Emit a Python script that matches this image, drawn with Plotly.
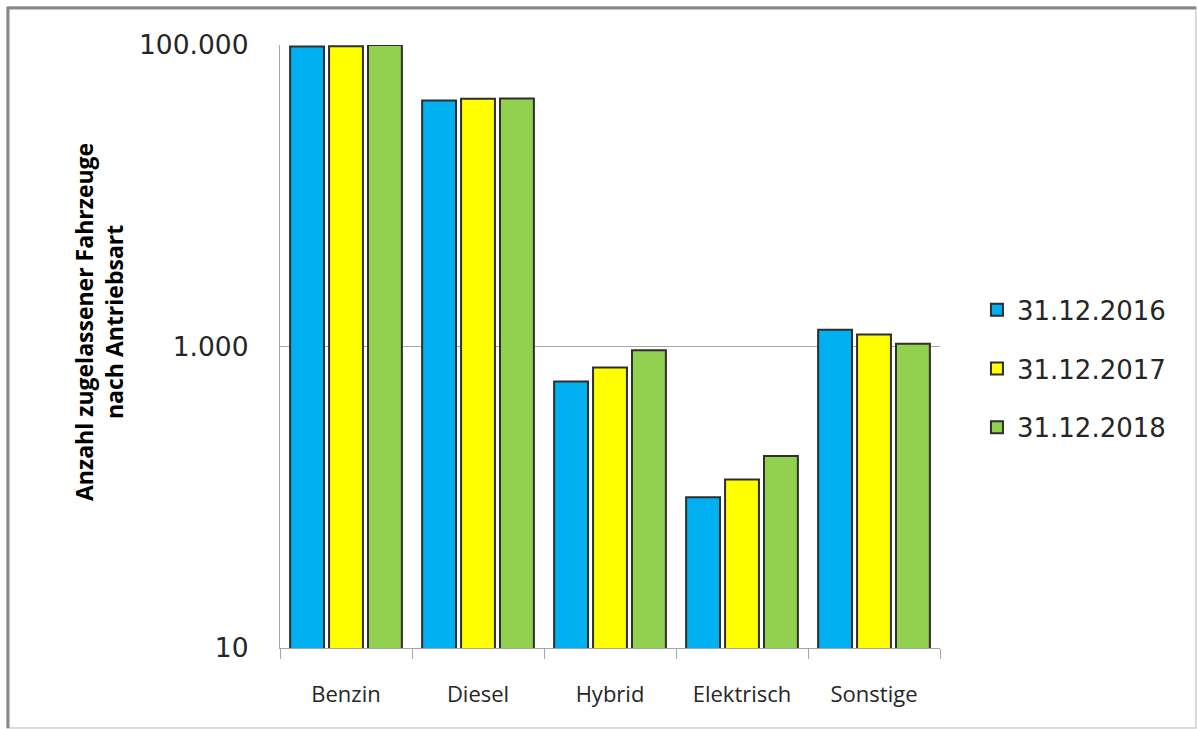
import plotly.graph_objects as go

categories = ["Benzin", "Diesel", "Hybrid", "Elektrisch", "Sonstige"]
series_names = ["31.12.2016", "31.12.2017", "31.12.2018"]
values_2016 = [97900, 42900, 586, 100, 1291]
values_2017 = [98000, 44000, 726, 131, 1201]
values_2018 = [100000, 44100, 946, 188, 1042]
colors = ["#00B0F0", "#FFFF00", "#92D050"]
y_tickvals = [10, 1000, 100000]
y_ticktext = ["10", "1.000", "100.000"]
y_title = "Anzahl zugelassener Fahrzeuge<br>nach Antriebsart"

W, H = 1197, 729
L, R, T, B = 280, 940, 45, 648

fig = go.Figure()
for name, vals, col in zip(series_names, [values_2016, values_2017, values_2018], colors):
    fig.add_trace(go.Bar(
        x=categories, y=vals, name=name, legendgroup=name,
        marker=dict(color=col, line=dict(color="#2e2e2e", width=2)),
    ))

def px_x(x):
    return (x - L) / (R - L)

def px_y(y):
    return (B - y) / (B - T)

shapes = [
    dict(type="rect", xref="paper", yref="paper",
         x0=px_x(7), x1=px_x(1196), y0=px_y(728), y1=px_y(7),
         line=dict(color="#cfcfcf", width=1.5), layer="below"),
    dict(type="line", xref="paper", yref="paper",
         x0=px_x(7), x1=px_x(1196), y0=px_y(8), y1=px_y(8),
         line=dict(color="#888888", width=3)),
    dict(type="line", xref="paper", yref="paper",
         x0=px_x(8), x1=px_x(8), y0=px_y(728), y1=px_y(7),
         line=dict(color="#888888", width=3)),
]

annotations = [
    dict(text=y_title, xref="paper", yref="paper",
         x=px_x(99), y=px_y(322), xanchor="center", yanchor="middle",
         textangle=-90, showarrow=False,
         font=dict(family="Open Sans", size=23, color="#000000", weight="bold")),
]

fig.update_layout(
    width=W, height=H,
    margin=dict(l=L, r=W - R, t=T, b=H - B, autoexpand=False),
    paper_bgcolor="white", plot_bgcolor="white",
    barmode="group", bargap=0.115, bargroupgap=0.13,
    shapes=shapes, annotations=annotations,
    font=dict(family="DejaVu Sans", color="#262626"),
    legend=dict(
        x=1.056, xanchor="left", y=0.463, yanchor="middle",
        font=dict(family="DejaVu Sans", size=26, color="#262626"),
        tracegroupgap=22, itemwidth=30,
        bgcolor="rgba(0,0,0,0)",
    ),
    yaxis=dict(
        type="log", range=[1, 5],
        tickvals=y_tickvals, ticktext=y_ticktext,
        tickfont=dict(family="DejaVu Sans", size=26.5, color="#262626"),
        showgrid=True, gridcolor="#a6a6a6", gridwidth=1.3,
        showline=True, linecolor="#a6a6a6", linewidth=1.3,
        ticks="", ticklabelstandoff=25,
        zeroline=False,
    ),
    xaxis=dict(
        type="category",
        tickfont=dict(family="Open Sans", size=22, color="#262626"),
        showline=True, linecolor="#a6a6a6", linewidth=1.3,
        ticks="outside", tickson="boundaries", ticklen=10,
        tickcolor="#a6a6a6", tickwidth=1.3,
        ticklabelstandoff=26,
        showgrid=False,
    ),
)

fig.write_html("out.html", config={"displayModeBar": False},
               post_script="document.body.style.margin='0';document.body.style.overflow='hidden';")
